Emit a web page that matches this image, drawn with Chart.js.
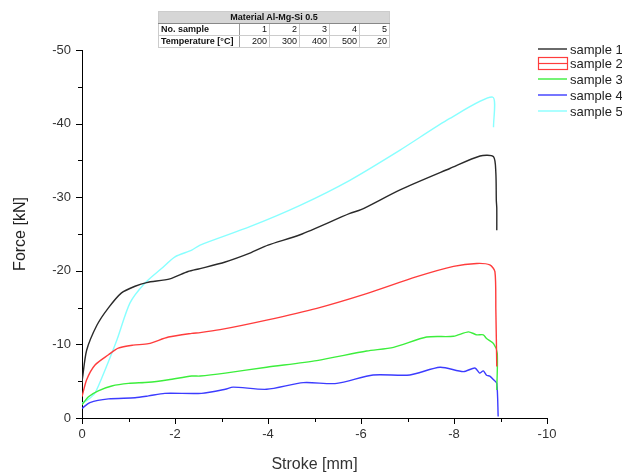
<!DOCTYPE html>
<html>
<head>
<meta charset="utf-8">
<script src="https://cdn.jsdelivr.net/npm/chart.js@4/dist/chart.umd.min.js"></script>
<style>
  html, body { margin: 0; padding: 0; background: #fff; }
  #wrap { position: relative; width: 622px; height: 474px; }
  #c { position: absolute; left: 0; top: 0; }
  #tbl { position: absolute; left: 158px; top: 11px; border-collapse: collapse; font-family: Arial, "Liberation Sans", sans-serif; font-size: 9px; color: #111; border: 1px solid #888; }
  #tbl td { padding: 0 2px; height: 11px; line-height: 11px; border: 1px solid #ccc; }
  #tbl .hd { background: #d6d6d6; font-weight: bold; text-align: center; border-bottom: 1px solid #888; }
  #tbl .lb { font-weight: bold; text-align: left; width: 76px; border-right: 1px solid #999; }
  #tbl .v { text-align: right; width: 25px; }
</style>
</head>
<body>
<div id="wrap">
<canvas id="c" width="622" height="474"></canvas>
<table id="tbl"></table>
</div>
<script>
// ---- data ----
const seriesNames = ["sample 1", "sample 2", "sample 3", "sample 4", "sample 5"];
const tableTitle = "Material Al-Mg-Si 0.5";
const sampleNos = ["1", "2", "3", "4", "5"];
const temperatures = ["200", "300", "400", "500", "20"];

const s1x = [0, -0.01, -0.1, -0.32, -0.56, -0.85, -1.14, -1.39, -1.89, -2.28, -2.54, -3.08, -3.61, -4.0, -4.69, -5.76, -6.0, -6.84, -7.91, -8.56, -8.85, -8.9, -8.91, -8.92, -8.92];
const s1y = [-4.8, -5.4, -9.2, -12.6, -14.9, -17.0, -17.9, -18.4, -18.9, -19.9, -20.3, -21.2, -22.4, -23.5, -24.9, -27.8, -28.3, -31.0, -33.9, -35.6, -35.5, -33.3, -29.6, -28.5, -25.5];

const s2x = [0, -0.1, -0.28, -0.57, -0.78, -1.1, -1.43, -1.86, -2.36, -2.54, -2.97, -3.97, -5.05, -6.12, -7.2, -7.99, -8.49, -8.77, -8.88, -8.9, -8.92];
const s2y = [-2.9, -5.2, -7.2, -8.6, -9.5, -9.9, -10.1, -11.0, -11.5, -11.6, -12.0, -13.3, -14.9, -16.9, -19.2, -20.6, -21.0, -20.8, -19.9, -14.7, -7.0];

const s3x = [0, -0.14, -0.35, -0.64, -1.0, -1.43, -1.86, -2.36, -2.54, -3.08, -3.97, -5.05, -6.12, -6.7, -7.41, -7.99, -8.31, -8.49, -8.63, -8.70, -8.85, -8.93, -8.92];
const s3y = [-1.8, -2.9, -3.7, -4.35, -4.7, -4.85, -5.2, -5.7, -5.7, -6.1, -6.9, -7.8, -9.1, -9.6, -11.0, -11.1, -11.7, -11.3, -11.3, -10.8, -10.1, -8.8, -3.8];

const s4x = [0, -0.17, -0.57, -1.14, -1.43, -1.78, -2.57, -3.08, -3.25, -3.97, -4.76, -5.48, -6.26, -7.05, -7.7, -8.2, -8.45, -8.55, -8.63, -8.7, -8.77, -8.85, -8.92, -8.95];
const s4y = [-1.3, -2.1, -2.6, -2.75, -3.0, -3.35, -3.35, -3.9, -4.2, -3.9, -4.8, -4.7, -5.85, -5.85, -6.9, -6.3, -6.8, -6.1, -6.4, -5.8, -5.7, -5.2, -4.7, -0.2];

const s5x = [0, -0.15, -0.28, -0.5, -0.75, -1.03, -1.35, -1.71, -2.0, -2.36, -2.54, -3.61, -4.69, -5.76, -6.84, -7.91, -8.83, -8.85];
const s5y = [-2.0, -2.6, -3.4, -6.6, -10.6, -15.6, -18.3, -20.3, -21.9, -22.8, -23.5, -26.0, -28.9, -32.3, -36.4, -40.7, -43.6, -39.5];

const colors = ["#2a2a2a", "#ff3c3c", "#3cee3c", "#3c3cff", "#88ffff"];

// ---- table ----
(function () {
  const t = document.getElementById('tbl');
  let h = '<tr><td class="hd" colspan="6">' + tableTitle + '</td></tr>';
  h += '<tr><td class="lb">No. sample</td>' + sampleNos.map(v => '<td class="v">' + v + '</td>').join('') + '</tr>';
  h += '<tr><td class="lb">Temperature [°C]</td>' + temperatures.map(v => '<td class="v">' + v + '</td>').join('') + '</tr>';
  t.innerHTML = h;
})();

function pts(xs, ys) { return xs.map((x, i) => ({ x: x, y: ys[i] })); }
const allX = [s1x, s2x, s3x, s4x, s5x];
const allY = [s1y, s2y, s3y, s4y, s5y];

const datasets = seriesNames.map((n, i) => ({
  label: n,
  data: pts(allX[i], allY[i]),
  borderColor: colors[i],
  borderWidth: 1.4,
  pointRadius: 0,
  tension: 0.25,
  fill: false
}));

const FONT = 'Arial, "Liberation Sans", sans-serif';

const tickPlugin = {
  id: 'ticks',
  afterDraw(chart) {
    const ctx = chart.ctx;
    const xs = chart.scales.x, ys = chart.scales.y;
    const a = chart.chartArea;
    ctx.save();
    ctx.strokeStyle = '#000';
    ctx.lineWidth = 1;
    for (let v = 0; v >= -10; v -= 1) {
      const px = Math.round(xs.getPixelForValue(v)) + 0.5;
      const len = (v % 2 === 0) ? 6 : 4;
      ctx.beginPath(); ctx.moveTo(px, a.bottom); ctx.lineTo(px, a.bottom + len); ctx.stroke();
    }
    for (let v = 0; v >= -50; v -= 5) {
      const py = Math.round(ys.getPixelForValue(v)) + 0.5;
      const len = (v % 10 === 0) ? 6 : 4;
      ctx.beginPath(); ctx.moveTo(a.left, py); ctx.lineTo(a.left - len, py); ctx.stroke();
    }
    // legend
    const lx0 = 538, lx1 = 567, tx = 570;
    const ly = [49, 63, 79, 95, 111];
    ctx.font = '13px ' + FONT;
    ctx.textBaseline = 'middle';
    ctx.textAlign = 'left';
    seriesNames.forEach((n, i) => {
      ctx.strokeStyle = colors[i];
      ctx.lineWidth = 1.4;
      if (i === 1) {
        ctx.lineWidth = 1.2;
        ctx.strokeRect(lx0 + 0.5, ly[i] - 5.5, lx1 - lx0, 12);
        ctx.beginPath(); ctx.moveTo(lx0, ly[i] + 0.5); ctx.lineTo(lx1, ly[i] + 0.5); ctx.stroke();
      } else {
        ctx.beginPath(); ctx.moveTo(lx0, ly[i]); ctx.lineTo(lx1, ly[i]); ctx.stroke();
      }
      ctx.fillStyle = '#222';
      ctx.fillText(n, tx, ly[i] + 1);
    });
    ctx.restore();
  }
};

new Chart(document.getElementById('c'), {
  type: 'line',
  data: { datasets: datasets },
  plugins: [tickPlugin],
  options: {
    responsive: false,
    animation: false,
    layout: { padding: { left: 0, right: 75, top: 50, bottom: 0 } },
    plugins: { legend: { display: false }, tooltip: { enabled: false } },
    scales: {
      x: {
        type: 'linear',
        reverse: true,
        min: -10, max: 0,
        afterFit(s) { s.height = 56; },
        border: { display: true, color: '#000', width: 1 },
        grid: { display: true, drawOnChartArea: false, drawTicks: true, tickLength: 6, color: 'transparent', tickColor: 'transparent' },
        ticks: { stepSize: 2, padding: 3, color: '#333', font: { family: FONT, size: 13 }, maxRotation: 0, callback: v => String(v) },
        title: { display: true, text: 'Stroke [mm]', color: '#333', font: { family: FONT, size: 16 }, padding: { top: 0, bottom: 0 } }
      },
      y: {
        type: 'linear',
        reverse: true,
        min: -50, max: 0,
        afterFit(s) { s.width = 82; },
        border: { display: true, color: '#000', width: 1 },
        grid: { display: true, drawOnChartArea: false, drawTicks: true, tickLength: 6, color: 'transparent', tickColor: 'transparent' },
        ticks: { stepSize: 10, padding: 5, color: '#333', font: { family: FONT, size: 13 }, callback: v => String(v) },
        title: { display: true, text: 'Force [kN]', color: '#222', font: { family: FONT, size: 16 }, padding: { top: 11, bottom: 0 } }
      }
    }
  }
});
</script>
</body>
</html>
